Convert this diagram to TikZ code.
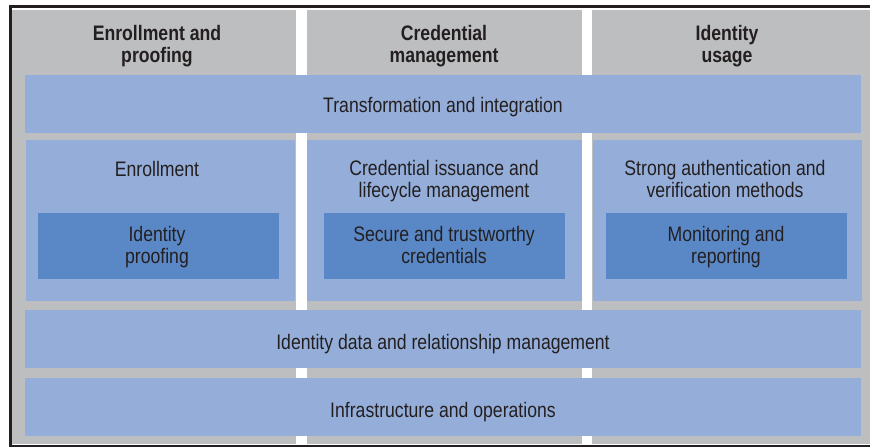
\documentclass[tikz,border=0pt]{standalone}
\usepackage{fontspec}
\setmainfont{Liberation Sans}[FakeStretch=0.84]
\definecolor{colgray}{HTML}{BDBEC0}
\definecolor{lightblue}{HTML}{95AED9}
\definecolor{darkblue}{HTML}{5A88C6}
\definecolor{framecol}{HTML}{231F20}
\definecolor{txt}{HTML}{231F20}
\begin{document}
\begin{tikzpicture}[x=1pt,y=-1pt,
  lbl/.style={text=txt,align=center,inner sep=0pt,font=\fontsize{21}{21.5}\selectfont},
  hdr/.style={lbl,font=\fontsize{21}{21.5}\selectfont\bfseries}]
\useasboundingbox (0,0) rectangle (870,447);
\fill[white] (0,0) rectangle (870,447);
% frame
\fill[framecol] (9,5) rectangle (870,447);
\fill[white] (12,8) rectangle (870,445);
% columns
\fill[colgray] (12,10) rectangle (296,444);
\fill[colgray] (307,10) rectangle (582,444);
\fill[colgray] (592,10) rectangle (870,444);
% bands
\fill[lightblue] (25,75) rectangle (861,133);
\fill[lightblue] (26,140) rectangle (295,301);
\fill[lightblue] (307,140) rectangle (582,301);
\fill[lightblue] (593,140) rectangle (862,301);
\fill[lightblue] (25,310) rectangle (861,368);
\fill[lightblue] (25,378) rectangle (861,436);
% inner boxes
\fill[darkblue] (38,213) rectangle (279,279);
\fill[darkblue] (324,213) rectangle (565,279);
\fill[darkblue] (606,213) rectangle (847,279);
% headers
\node[hdr] (h1) at (157,46) {Enrollment and\\proofing};
\node[hdr] (h2) at (444,46) {Credential\\management};
\node[hdr] (h3) at (727,46) {Identity\\usage};
% band labels
\node[lbl,anchor=base] (t1) at (443,112) {Transformation and integration};
\node[lbl,anchor=base] (t2) at (443,349) {Identity data and relationship management};
\node[lbl,anchor=base] (t3) at (443,417) {Infrastructure and operations};
% middle labels
\node[lbl,anchor=base] (m1) at (157,176) {Enrollment};
\node[lbl] (m2) at (444,181) {Credential issuance and\\lifecycle management};
\node[lbl] (m3) at (725,178.8) {Strong authentication and\\verification methods};
% inner labels
\node[lbl] (i1) at (157,247) {Identity\\proofing};
\node[lbl] (i2) at (444,244.8) {Secure and trustworthy\\credentials};
\node[lbl] (i3) at (726,247) {Monitoring and\\reporting};
\end{tikzpicture}
\end{document}
